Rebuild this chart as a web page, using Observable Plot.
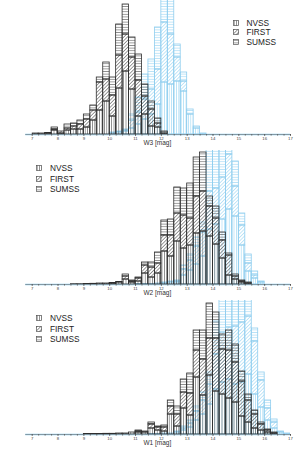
<!DOCTYPE html>
<html>
<head>
<meta charset="utf-8">
<script src="https://cdn.jsdelivr.net/npm/d3@7"></script>
<script src="https://cdn.jsdelivr.net/npm/@observablehq/plot@0.6"></script>
<style>
  html, body { margin: 0; padding: 0; background: #fff; }
  body { width: 300px; font-family: "Liberation Sans", Arial, sans-serif; }
  .panel { position: relative; width: 300px; height: 150px; }
  .panel svg.plot { display: block; }
  .legend { position: absolute; font-size: 8.3px; color: #222; }
  .legend .row { position: absolute; height: 8px; line-height: 8px; white-space: nowrap; }
  .legend .row svg { position: absolute; left: 0; top: 1.2px; }
  .legend .row span { position: absolute; top: 0; }
</style>
</head>
<body>
<svg width="0" height="0" style="position:absolute">
  <defs>
    <pattern id="NVSS-k" patternUnits="userSpaceOnUse" width="2.4" height="2.4">
      <line x1="1.2" y1="0" x2="1.2" y2="2.4" stroke="#4a4a4a" stroke-width="0.55"/>
    </pattern>
    <pattern id="FIRST-k" patternUnits="userSpaceOnUse" width="2.5" height="2.5" patternTransform="rotate(45)">
      <line x1="1.25" y1="0" x2="1.25" y2="2.5" stroke="#4a4a4a" stroke-width="0.55"/>
    </pattern>
    <pattern id="SUMSS-k" patternUnits="userSpaceOnUse" width="2.6" height="2.6">
      <line x1="0" y1="1.3" x2="2.6" y2="1.3" stroke="#4a4a4a" stroke-width="0.55"/>
    </pattern>
    <pattern id="NVSS-b" patternUnits="userSpaceOnUse" width="2.4" height="2.4">
      <line x1="1.2" y1="0" x2="1.2" y2="2.4" stroke="#9ad5f3" stroke-width="0.6"/>
    </pattern>
    <pattern id="FIRST-b" patternUnits="userSpaceOnUse" width="2.5" height="2.5" patternTransform="rotate(45)">
      <line x1="1.25" y1="0" x2="1.25" y2="2.5" stroke="#9ad5f3" stroke-width="0.6"/>
    </pattern>
    <pattern id="SUMSS-b" patternUnits="userSpaceOnUse" width="2.6" height="2.6">
      <line x1="0" y1="1.3" x2="2.6" y2="1.3" stroke="#9ad5f3" stroke-width="0.6"/>
    </pattern>
  </defs>
</svg>
<div id="chart"></div>
<script>
// ---- categories / ticks ----
const bins = [7, 7.25, 7.5, 7.75, 8, 8.25, 8.5, 8.75, 9, 9.25,
              9.5, 9.75, 10, 10.25, 10.5, 10.75, 11, 11.25, 11.5, 11.75,
              12, 12.25, 12.5, 12.75, 13, 13.25, 13.5, 13.75, 14, 14.25,
              14.5, 14.75, 15, 15.25, 15.5, 15.75, 16, 16.25, 16.5, 16.75];
const binWidth = 0.25;
const majorTicks = [7, 8, 9, 10, 11, 12, 13, 14, 15, 16, 17];
const surveys = ["NVSS", "FIRST", "SUMSS"];
const panelLabels = ["W3 [mag]", "W2 [mag]", "W1 [mag]"];

// ---- W3 panel ----
const w3BlackNVSS  = [1,1,1,4,1,4,5,5,7,14, 24,33,18,46,63,45,18,20,8,7, 1,0,0,0,0,0,0,0,0,0, 0,0,0,0,0,0,0,0,0,0];
const w3BlackFIRST = [0,0,0,1,2,2,3,5,8,10, 28,22,21,33,37,32,36,18,17,4, 0,0,0,0,0,0,0,0,0,0, 0,0,0,0,0,0,0,0,0,0];
const w3BlackSUMSS = [0,0,0.5,2,0,4,3,4,5,5, 5,17,18,31,30,20,26,12,8,5, 2,0,0,0,0,0,0,0,0,0, 0,0,0,0,0,0,0,0,0,0];
const w3BlueNVSS   = [0,0,0,0,0,0,0,0,0,0, 0,0,1,2,3,6,10,15,20,30, 52,50,53,43,20,6,1,0,0,0, 0,0,0,0,0,0,0,0,0,0];
const w3BlueFIRST  = [0,0,0,0,0,0,0,0,0,0, 0,0,0,0.5,1,8,12,20,25,35, 60,50,24,10,0,0,0,0,0,0, 0,0,0,0,0,0,0,0,0,0];
const w3BlueSUMSS  = [0,0,0,0,0,0,0,0,0,0, 0,0,1,0.5,1,6,15,25,30,42, 40,55,13,9,5,2,0,0,0,0, 0,0,0,0,0,0,0,0,0,0];

// ---- W2 panel ----
const w2BlackNVSS  = [0,0,0,0,0,0,0.3,0.3,0.5,0.7, 1,1,1,2,5,2,3,11,7,11, 33,28,43,36,39,51,53,48,40,26, 9,5,2,1,0,0,0,0,0,0];
const w2BlackFIRST = [0,0,0,0,0,0,0,0,0,0, 0,0,0.5,0.5,3,1,3,8,10,10, 16,21,28,33,27,37,40,30,26,18, 20,3,1,1,0,0,0,0,0,0];
const w2BlackSUMSS = [0,0,0,0,0,0,0,0,0,0, 0,0,0,0,2,1,1,3,5,11, 15,16,26,27,35,39,39,10,12,8, 2,2,1,0,0,0,0,0,0,0];
const w2BlueNVSS   = [0,0,0,0,0,0,0,0,0,0, 0,0,0,0,0,0,0.5,0.5,0.5,1, 1,2,2,9,14,20,28,55,60,65, 75,68,39,13,6,2,0,0,0,0];
const w2BlueFIRST  = [0,0,0,0,0,0,0,0,0,0, 0,0,0,0,0,0,0,0,0,0, 1,1,1,6,10,18,24,38,36,42, 55,30,20,8,3,1,0,0,0,0];
const w2BlueSUMSS  = [0,0,0,0,0,0,0,0,0,0, 0,0,0,0,0,0,0,0,0,0, 0,0,1,4,6,9,10,55,55,45, 30,25,12,9,4,0,0,0,0,0];

// ---- W1 panel ----
const w1BlackNVSS  = [0,0,0,0,0,0,0,0,0.5,0.5, 0.5,0.7,0.7,1,1,2,2,2,6,4, 3,20,8,26,19,57,39,59,43,40, 36,32,18,12,6,4,2,1,0,0];
const w1BlackFIRST = [0,0,0,0,0,0,0,0,0,0, 0,0,0,0,0,0,1,1,4,3, 4,8,12,16,22,27,36,37,53,45, 48,40,35,22,14,6,2,1,0,0];
const w1BlackSUMSS = [0,0,0,0,0,0,0,0,0,0, 0,0,0,0,0,0,1,0,2,1, 2,6,8,13,20,20,29,35,26,15, 20,18,10,6,4,2,1,0,0,0];
const w1BlueNVSS   = [0,0,0,0,0,0,0,0,0,0, 0,0,0,0,0,0,0,0,0.5,0.5, 1,1,2,4,7,14,20,30,45,52, 55,50,52,60,40,27,14,6,2,1];
const w1BlueFIRST  = [0,0,0,0,0,0,0,0,0,0, 0,0,0,0,0,0,0,0,0,0, 0,0,1,2,4,9,14,20,35,50, 52,58,60,58,53,27,12,6,1,0];
const w1BlueSUMSS  = [0,0,0,0,0,0,0,0,0,0, 0,0,0,0,0,0,0,0,0,0, 0,0,0,2,3,5,8,12,33,50, 48,45,40,35,13,8,8,3,0,0];

const panels = [
  {label: panelLabels[0], black: [w3BlackNVSS, w3BlackFIRST, w3BlackSUMSS], blue: [w3BlueNVSS, w3BlueFIRST, w3BlueSUMSS],
   legend: {left: 233, textLeft: 246.5, rows: [22.7, 32.2, 42]}},
  {label: panelLabels[1], black: [w2BlackNVSS, w2BlackFIRST, w2BlackSUMSS], blue: [w2BlueNVSS, w2BlueFIRST, w2BlueSUMSS],
   legend: {left: 36, textLeft: 50, rows: [18.3, 28.9, 39.3]}},
  {label: panelLabels[2], black: [w1BlackNVSS, w1BlackFIRST, w1BlackSUMSS], blue: [w1BlueNVSS, w1BlueFIRST, w1BlueSUMSS],
   legend: {left: 36, textLeft: 50, rows: [18.3, 28.9, 39.3]}}
];

// stack NVSS (bottom), FIRST, SUMSS (top) per bin
function stackRows(series) {
  const out = [];
  bins.forEach((b, i) => {
    let base = 0;
    series.forEach((arr, k) => {
      const v = arr[i];
      if (v > 0) out.push({survey: surveys[k], x1: b, x2: b + binWidth, y1: base, y2: base + v});
      base += v;
    });
  });
  return out;
}

const minorTicks = d3.range(7, 17.001, 0.25).filter(t => Math.abs(t - Math.round(t)) > 1e-6);
const blueLine = "#8fcdee";
const blackLine = "#2e2e2e";

const chart = document.getElementById("chart");
panels.forEach(p => {
  const blackRows = stackRows(p.black);
  const blueRows = stackRows(p.blue);
  const barMarks = (rows, pop, stroke) => surveys.map(s =>
    Plot.rect(rows.filter(d => d.survey === s), {
      x1: "x1", x2: "x2", y1: "y1", y2: "y2",
      fill: `url(#${s}-${pop})`, stroke, strokeWidth: 0.8, clip: true
    }));
  const svg = Plot.plot({
    width: 300, height: 150,
    marginLeft: 31.7, marginRight: 10, marginTop: 0, marginBottom: 16,
    style: {fontFamily: "Liberation Sans, Arial, sans-serif", background: "transparent"},
    x: {domain: [7, 17], axis: null},
    y: {domain: [0, 134], axis: null},
    marks: [
      Plot.ruleY([0], {x1: 6.75, x2: 17, stroke: blueLine, strokeWidth: 1.6}),
      ...barMarks(blueRows, "b", blueLine),
      ...barMarks(blackRows, "k", blackLine),
      Plot.ruleY([0], {x1: 6.75, x2: 17, stroke: "#777", strokeWidth: 0.6}),
      Plot.axisX(minorTicks, {tickSize: 1.5, tickFormat: () => "", stroke: "#666", label: null}),
      Plot.axisX(majorTicks, {tickSize: 1.8, tickPadding: 0.4, fontSize: 4.3, stroke: "#555", fill: "#444", label: null}),
      Plot.text([p.label], {frameAnchor: "bottom", dy: 10.8, dx: -4, fontSize: 6.5, fill: "#333"})
    ]
  });
  svg.classList.add("plot");
  const div = document.createElement("div");
  div.className = "panel";
  div.appendChild(svg);
  const leg = document.createElement("div");
  leg.className = "legend";
  leg.style.left = "0px"; leg.style.top = "0px";
  surveys.forEach((s, k) => {
    const row = document.createElement("div");
    row.className = "row";
    row.style.left = p.legend.left + "px";
    row.style.top = (p.legend.rows[k] - 4) + "px";
    row.innerHTML = `<svg width="6" height="6"><rect x="0.4" y="0.4" width="5.2" height="5.2" fill="url(#${s}-k)" stroke="#555" stroke-width="0.7"/></svg>` +
      `<span style="left:${p.legend.textLeft - p.legend.left}px">${s}</span>`;
    leg.appendChild(row);
  });
  div.appendChild(leg);
  chart.appendChild(div);
});
</script>
</body>
</html>
